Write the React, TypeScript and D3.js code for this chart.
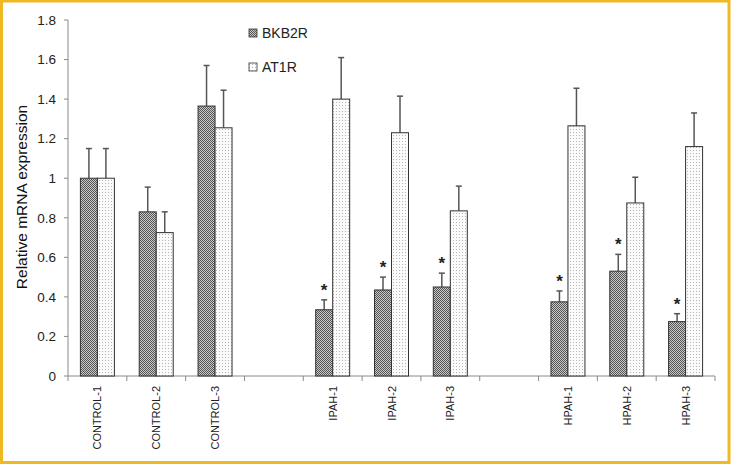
import React from "react";
import * as d3 from "d3";

const categories = ["CONTROL-1", "CONTROL-2", "CONTROL-3", "", "IPAH-1", "IPAH-2", "IPAH-3", " ", "HPAH-1", "HPAH-2", "HPAH-3"];
const seriesNames = ["BKB2R", "AT1R"];
const bkb2r = [1.0, 0.83, 1.365, null, 0.335, 0.435, 0.45, null, 0.375, 0.53, 0.275];
const bkb2rErr = [0.15, 0.125, 0.205, null, 0.05, 0.065, 0.07, null, 0.055, 0.085, 0.04];
const at1r = [1.0, 0.725, 1.255, null, 1.4, 1.23, 0.835, null, 1.265, 0.875, 1.16];
const at1rErr = [0.15, 0.105, 0.19, null, 0.21, 0.185, 0.125, null, 0.19, 0.13, 0.17];
const significant = [false, false, false, false, true, true, true, false, true, true, true];
const yTicks = [0, 0.2, 0.4, 0.6, 0.8, 1, 1.2, 1.4, 1.6, 1.8];

const W = 731, H = 464;
const left = 68, right = 715, top = 20, bottom = 376;

export default function App() {
  const x = d3.scaleBand<string>().domain(categories).range([left, right]).paddingInner(0).paddingOuter(0);
  const y = d3.scaleLinear().domain([0, 1.8]).range([bottom, top]);
  const bw = x.bandwidth();
  const barW = 17;
  const series = [
    { name: seriesNames[0], vals: bkb2r, errs: bkb2rErr, fill: "url(#checker)" },
    { name: seriesNames[1], vals: at1r, errs: at1rErr, fill: "url(#dots)" },
  ];
  const font = "'Liberation Sans', Arial, sans-serif";
  return (
    <svg width={W} height={H} style={{ position: "absolute", left: 0, top: 0, background: "#fff" }} fontFamily={font}>
      <defs>
        <pattern id="checker" width="2" height="2" patternUnits="userSpaceOnUse">
          <rect width="2" height="2" fill="#c8c8c8" />
          <rect width="1" height="1" fill="#555" />
          <rect x="1" y="1" width="1" height="1" fill="#555" />
        </pattern>
        <pattern id="dots" width="3" height="3" patternUnits="userSpaceOnUse">
          <rect width="3" height="3" fill="#fbfbfb" />
          <rect width="1" height="1" fill="#b5b5b5" />
        </pattern>
      </defs>
      <rect x={1.5} y={1} width={W - 3.5} height={H - 2.5} fill="#fff" stroke="#f0b823" strokeWidth={3} />
      {/* y axis */}
      <line x1={left} x2={left} y1={y(1.8)} y2={bottom} stroke="#8a8a8a" />
      {yTicks.map((t) => (
        <g key={t}>
          <line x1={left - 4} x2={left} y1={y(t)} y2={y(t)} stroke="#8a8a8a" />
          <text x={56} y={y(t)} dy="0.35em" textAnchor="end" fontSize={13.5} fill="#222">{d3.format("~g")(t)}</text>
        </g>
      ))}
      {/* x axis */}
      <line x1={left} x2={right} y1={bottom} y2={bottom} stroke="#8a8a8a" />
      {categories.map((c, i) => (
        <line key={"t" + i} x1={x(c)!} x2={x(c)!} y1={bottom} y2={bottom + 5} stroke="#8a8a8a" />
      ))}
      <line x1={right} x2={right} y1={bottom} y2={bottom + 5} stroke="#8a8a8a" />
      {categories.map((c, i) =>
        c.trim() ? (
          <text key={"l" + i} transform={`translate(${x(c)! + bw / 2 + 4},${bottom + 10}) rotate(-90)`} textAnchor="end" fontSize={11} fill="#222">{c}</text>
        ) : null
      )}
      {/* bars */}
      {series.map((s, si) =>
        categories.map((c, i) => {
          const v = s.vals[i];
          const e = s.errs[i];
          if (v == null || e == null) return null;
          const x0 = x(c)! + bw / 2 - barW + si * barW;
          const cx = x0 + barW / 2;
          return (
            <g key={s.name + i}>
              <line x1={cx} x2={cx} y1={y(v)} y2={y(v + e)} stroke="#555" strokeWidth={1.5} />
              <line x1={cx - 3} x2={cx + 3} y1={y(v + e)} y2={y(v + e)} stroke="#555" strokeWidth={1.5} />
              <rect x={x0} y={y(v)} width={barW} height={bottom - y(v)} fill={s.fill} stroke="#333" strokeWidth={1} />
              {si === 0 && significant[i] ? (
                <text x={cx} y={y(v + e) - 4} textAnchor="middle" fontSize={17} fontWeight="bold" fill="#222">*</text>
              ) : null}
            </g>
          );
        })
      )}
      {/* legend */}
      {series.map((s, si) => (
        <g key={"lg" + si} transform={`translate(249,${33 + si * 34})`}>
          <rect x={0} y={-4} width={8} height={8} fill={s.fill} stroke="#333" strokeWidth={0.8} />
          <text x={13} y={0} dy="0.36em" fontSize={14} fill="#222">{s.name}</text>
        </g>
      ))}
      {/* y label */}
      <text transform={`translate(27,197) rotate(-90)`} textAnchor="middle" fontSize={15.5} fill="#111">Relative mRNA expression</text>
    </svg>
  );
}
